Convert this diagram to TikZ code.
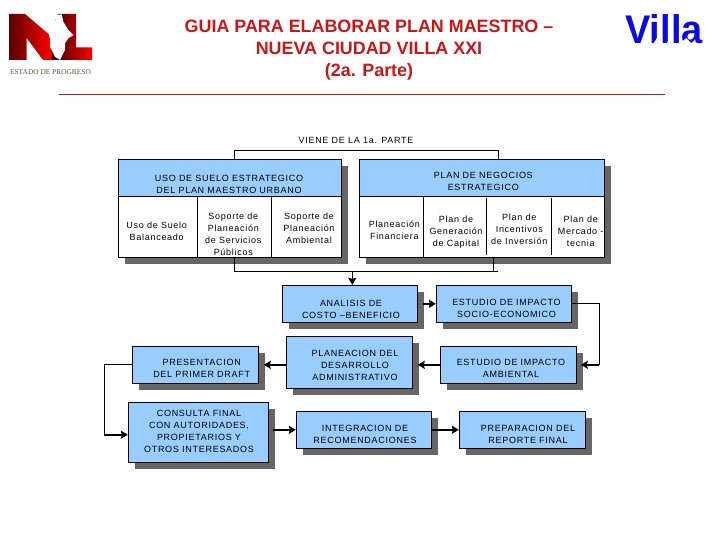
\documentclass[tikz,border=0pt]{standalone}
\usepackage{fontspec}
\setmainfont{Liberation Sans}
\newfontfamily\boxfont{Liberation Sans}[LetterSpace=8]
\newfontfamily\logofont{Liberation Serif}
\usepackage{tikz}
\usetikzlibrary{shadows, arrows.meta}
\definecolor{planblue}{HTML}{99CCFF}
\definecolor{planshadow}{HTML}{666666}
\definecolor{titlered}{HTML}{CC1518}
\definecolor{rulered}{HTML}{C01818}
\definecolor{villablue}{HTML}{0B0BE0}
\definecolor{logogreen}{HTML}{4A5A3A}
\tikzset{
  planshade/.style={drop shadow={shadow xshift=6.3pt,shadow yshift=-6.3pt,fill=planshadow,opacity=1}},
  planbox/.style={draw=black,line width=0.9pt,fill=planblue,planshade,inner sep=0pt},
  tablebox/.style={draw=black,line width=0.9pt,fill=white,planshade,inner sep=0pt},
  headbox/.style={draw=black,line width=0.9pt,fill=planblue,inner sep=0pt},
  boxtext/.style={font=\boxfont\fontsize{9}{12}\selectfont,align=center,inner sep=0pt},
  thinline/.style={line width=0.9pt},
  thickline/.style={line width=1.6pt,->}
}
\begin{document}
\begin{tikzpicture}[x=1pt,y=-1pt,>={Stealth[length=7pt,width=8pt,inset=1pt]}]
  \useasboundingbox (0,0) rectangle (720,540);

  % Logo NL
  \shade[left color=black!85!red,right color=red]
    (50,60) -- (50,30) -- (58,14) -- (76,14) -- (76,47.3) -- (92,47.3) -- (92,60) -- cycle;
  \shade[left color=black!65!red,right color=red]
    (9.3,14) -- (25,14) -- (52,37) -- (52,60) -- (43,60) -- (26.7,38) -- (26.7,60) -- (9.3,60) -- cycle;
  \fill[white] (56.7,15) -- (61.7,14.3) -- (63.3,21.7) -- (68.3,30) -- (73.3,35) -- (68.3,38.3) -- (65,43.3) -- (65,50) -- (60,60) -- (55,56.7) -- (50,46.7) -- (50,38.3) -- (47.3,29) -- (51.7,25) -- (55,21.7) -- cycle;
  \fill[white] (47.3,29) -- (51.7,25) -- (55,21.7) -- (56.7,15) -- (56.7,13) -- (40,13) -- cycle;
  \node[font=\logofont\fontsize{7.4}{8}\selectfont,text=logogreen,inner sep=0pt] (estado) at (50.5,72) {ESTADO DE PROGRESO};

  % Logo Villa
  \node[font=\bfseries\fontsize{40}{40}\selectfont,text=villablue,inner sep=0pt,anchor=base] (villa) at (664,43.5) {\scalebox{.95}[1]{Villa}};
  \fill[white] (653,44) -- (657,38) -- (661,44) -- cycle;
  \fill[white] (666,44) -- (670,38.5) -- (674,44) -- cycle;
  \fill[white] (680,44) -- (686,38) -- (692,44) -- cycle;

  % Title
  \node[font=\bfseries\fontsize{17.9}{22}\selectfont,text=titlered,align=center,inner sep=0pt] (title) at (369,50.5) {GUIA PARA ELABORAR PLAN MAESTRO --\\NUEVA CIUDAD VILLA XXI\\(2a. Parte)};
  \coordinate (ruleleft) at (59,94.5);
  \coordinate (ruleright) at (664.5,94.5);
  \draw[rulered,line width=0.9pt] (ruleleft) -- (ruleright);

  \node[boxtext] (viene) at (356,140.5) {VIENE DE LA 1a. PARTE};

  % Upper tables
  \node[tablebox,minimum width=223.4pt,minimum height=98pt] (usobox) at (230,208.3) {};
  \node[tablebox,minimum width=245.4pt,minimum height=98pt] (negbox) at (482,208.3) {};
  \node[headbox,minimum width=223.4pt,minimum height=37pt] (usohead) at (230,177.8) {};
  \node[headbox,minimum width=245.4pt,minimum height=37pt] (neghead) at (482,177.8) {};
  \node[boxtext] (usotitle) at (229,184.3) {USO DE SUELO ESTRATEGICO\\DEL PLAN MAESTRO URBANO};
  \node[boxtext] (negtitle) at (483.3,181.7) {PLAN DE NEGOCIOS\\ESTRATEGICO};

  \draw[thinline] (197.7,196.3) -- (197.7,257.3);
  \draw[thinline] (271.7,196.3) -- (271.7,257.3);
  \draw[thinline] (423.3,196.3) -- (423.3,257.3);
  \draw[thinline] (486.3,198) -- (486.3,255);
  \draw[thinline] (551.3,198) -- (551.3,255);

  \node[boxtext] (usocell) at (156.7,231) {Uso de Suelo\\Balanceado};
  \node[boxtext] (servcell) at (233.3,234) {Soporte de\\Planeación\\de Servicios\\Públicos};
  \node[boxtext] (ambcell) at (309,228) {Soporte de\\Planeación\\Ambiental};
  \node[boxtext] (fincell) at (394.3,230.7) {Planeación\\Financiera};
  \node[boxtext] (capcell) at (456,232) {Plan de\\Generación\\de Capital};
  \node[boxtext] (inccell) at (519.3,229.7) {Plan de\\Incentivos\\de Inversión};
  \node[boxtext] (mercell) at (580.7,231.7) {Plan de\\Mercado -\\tecnia};

  % Lower boxes
  \node[planbox,minimum width=135.4pt,minimum height=37pt] (analisis) at (350,303.8) {};
  \node[planbox,minimum width=126.4pt,minimum height=52pt] (planeacion) at (349.5,362.3) {};
  \node[planbox,minimum width=126.4pt,minimum height=37pt] (presentacion) at (195.5,364.8) {};
  \node[planbox,minimum width=140.4pt,minimum height=60pt] (consulta) at (198.5,432.3) {};
  \node[planbox,minimum width=135.4pt,minimum height=37pt] (integracion) at (364,429.8) {};
  \node[planbox,minimum width=135.4pt,minimum height=37pt] (socio) at (504,303.8) {};
  \node[planbox,minimum width=136.4pt,minimum height=37pt] (ambiental) at (508.5,364.8) {};
  \node[planbox,minimum width=126pt,minimum height=37pt] (reporte) at (522.3,429.8) {};

  \node[boxtext] (analisistxt) at (351,309.3) {ANALISIS DE\\COSTO –BENEFICIO};
  \node[boxtext] (planeaciontxt) at (355,365.3) {PLANEACION DEL\\DESARROLLO\\ADMINISTRATIVO};
  \node[boxtext] (presentaciontxt) at (201.7,368.3) {PRESENTACION\\DEL PRIMER DRAFT};
  \node[boxtext] (consultatxt) at (199,431.3) {CONSULTA FINAL\\CON AUTORIDADES,\\PROPIETARIOS Y\\OTROS INTERESADOS};
  \node[boxtext] (integraciontxt) at (365,434.3) {INTEGRACION DE\\RECOMENDACIONES};
  \node[boxtext] (sociotxt) at (506.5,308.3) {ESTUDIO DE IMPACTO\\SOCIO-ECONOMICO};
  \node[boxtext] (ambientaltxt) at (511,368.3) {ESTUDIO DE IMPACTO\\AMBIENTAL};
  \node[boxtext] (reportetxt) at (528,434.3) {PREPARACION DEL\\REPORTE FINAL};

  % Connectors
  \coordinate (topleft) at (234.3,150.3);
  \coordinate (topright) at (498.3,150.3);
  \coordinate (botleft) at (234.3,271);
  \coordinate (botright) at (498.3,271);
  \coordinate (botstub) at (493.3,271);
  \coordinate (botarrow) at (352.3,271);
  \coordinate (rightbend) at (599.3,303.8);
  \coordinate (rightfoot) at (599.3,364.8);
  \coordinate (leftbend) at (104.3,364.8);
  \coordinate (leftfoot) at (104.3,434.7);

  \draw[thinline] (topleft |- usobox.north) -- (topleft) -- (topright) -- (topright |- negbox.north);
  \draw[thinline] (botleft |- usobox.south) -- (botleft) -- (botright);
  \draw[thinline] (botstub |- negbox.south) -- (botstub);
  \draw[thickline] (botarrow) -- (botarrow |- analisis.north);

  \draw[thickline,shorten <=4.5pt] (analisis.east) -- (socio.west);
  \draw[thinline] (socio.east) -- (rightbend) -- (rightfoot);
  \draw[thickline,shorten >=3.6pt] (rightfoot) -- (ambiental.east);
  \draw[thickline,shorten >=4.6pt] (ambiental.west) -- (planeacion.east |- ambiental.west);
  \draw[thickline,shorten >=4.6pt] (planeacion.west |- presentacion.east) -- (presentacion.east);
  \draw[thinline] (presentacion.west) -- (leftbend) -- (leftfoot);
  \draw[thickline] (leftfoot) -- (consulta.west |- leftfoot);
  \draw[thickline,shorten <=3.6pt] (consulta.east |- integracion.west) -- (integracion.west);
  \draw[thickline] (integracion.east) -- (reporte.west);
\end{tikzpicture}
\end{document}
